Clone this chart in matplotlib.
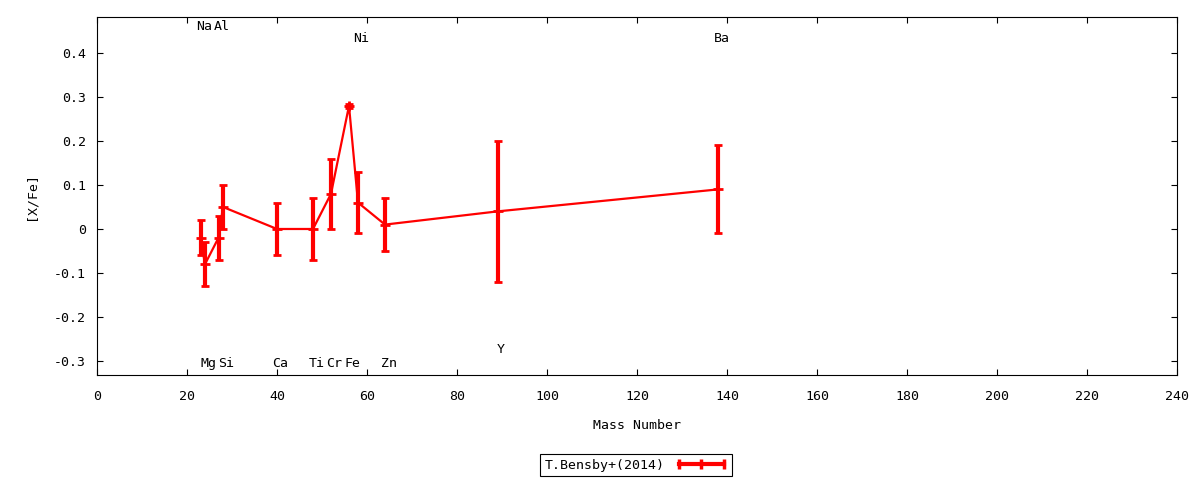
import numpy as np
import matplotlib
matplotlib.use("Agg")
import matplotlib.pyplot as plt
from matplotlib.lines import Line2D

plt.rcParams['font.family'] = ['DejaVu Sans Mono']
plt.rcParams['font.size'] = 9.5

# element data
elements = ["Na", "Mg", "Al", "Si", "Ca", "Ti", "Cr", "Fe", "Ni", "Zn", "Y", "Ba"]
mass = [23, 24, 27, 28, 40, 48, 52, 56, 58, 64, 89, 138]
xfe = [-0.02, -0.08, -0.02, 0.05, 0.00, 0.00, 0.08, 0.28, 0.06, 0.01, 0.04, 0.09]
err = [0.04, 0.05, 0.05, 0.05, 0.06, 0.07, 0.08, 0.005, 0.07, 0.06, 0.16, 0.10]

# label heights
label_y = [0.46, -0.305, 0.46, -0.305, -0.305, -0.305, -0.305, -0.305, 0.434, -0.305, -0.273, 0.434]

xticks = [0, 20, 40, 60, 80, 100, 120, 140, 160, 180, 200, 220, 240]
yticks = [-0.3, -0.2, -0.1, 0, 0.1, 0.2, 0.3, 0.4]
ytick_labels = ["-0.3", "-0.2", "-0.1", "0", "0.1", "0.2", "0.3", "0.4"]

fig = plt.figure(figsize=(12, 4.8), dpi=100)
ax = fig.add_axes([97/1200, 1-375/480, 1080/1200, 358/480])

ax.errorbar(mass, xfe, yerr=err, color="red", lw=1.6, elinewidth=3,
            capsize=3, capthick=2.5, marker="+", ms=7, mew=2)

for el, m, ly in zip(elements, mass, label_y):
    ax.text(m + 0.8, ly, el, ha="center", va="center", fontsize=9.5)

ax.set_xlim(0, 240)
ax.set_ylim(-0.332, 0.482)
ax.set_xticks(xticks)
ax.set_yticks(yticks)
ax.set_yticklabels(ytick_labels)
ax.tick_params(direction="in", length=4, width=0.8, top=True, right=True)
ax.tick_params(axis="x", pad=11)
ax.tick_params(axis="y", pad=8)
for s in ax.spines.values():
    s.set_linewidth(0.8)

ax.set_xlabel("Mass Number", labelpad=11)
ax.set_ylabel("[X/Fe]", labelpad=12)

# gnuplot-like key sample: thick line with ticks at the ends and middle
key = Line2D([], [], color="red", lw=3, marker="|", ms=7, mew=2.5,
             label="T.Bensby+(2014)")
leg = fig.legend(handles=[key], loc="center", bbox_to_anchor=(636/1200, 1-465/480),
                 markerfirst=False, fancybox=False, edgecolor="black",
                 framealpha=1, handlelength=4, borderpad=0.35, numpoints=3,
                 borderaxespad=0)
leg.get_frame().set_linewidth(0.8)

fig.savefig("out.png", dpi=100)
